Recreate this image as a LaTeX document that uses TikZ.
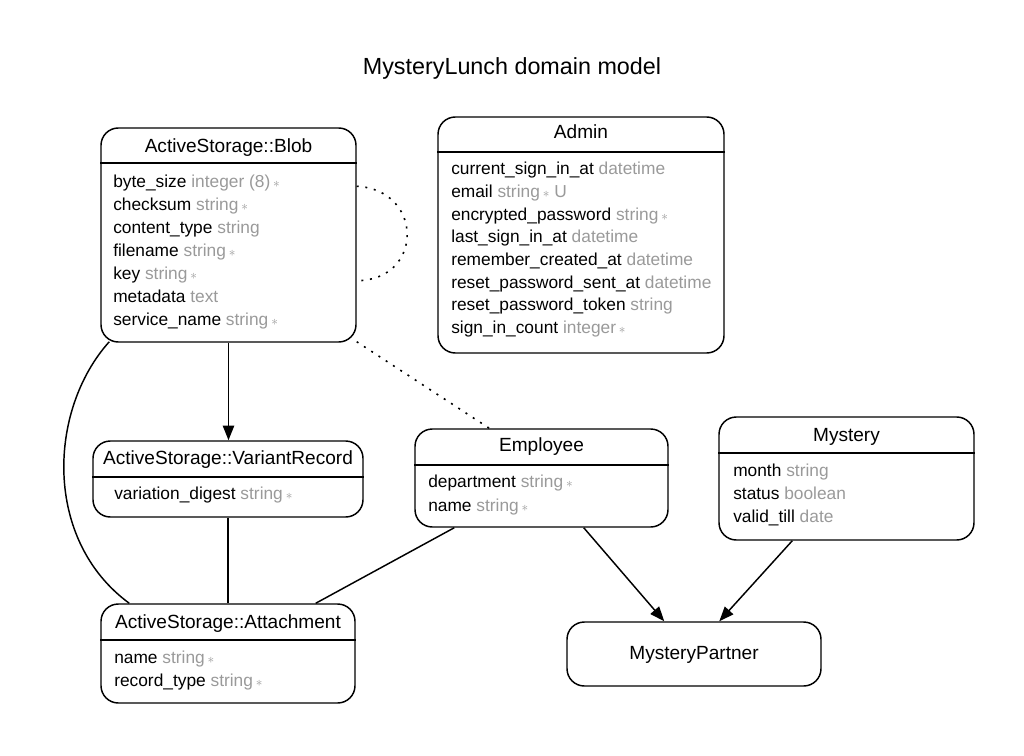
\documentclass[tikz,border=0pt]{standalone}
\usepackage{fontspec}
\setmainfont{Liberation Sans}
\usetikzlibrary{positioning, calc, fit, arrows.meta}

\definecolor{typegray}{HTML}{9A9A9A}
\newcommand{\attrtype}[1]{\textcolor{typegray}{#1}}
\newcommand{\reqmark}{\,\textcolor{typegray}{\fontsize{10}{10}\selectfont$\ast$}}

\begin{document}
\begin{tikzpicture}[x=0.75pt, y=-0.75pt, >={Triangle[length=11pt,width=8.5pt]},
    box/.style={draw, line width=1.1pt, rounded corners=13pt, inner sep=0pt},
    sep/.style={line width=1.1pt},
    edge/.style={line width=1.1pt},
    dots/.style={line width=1.2pt, dash pattern=on 1.5pt off 5pt},
    heading/.style={font=\fontsize{17.5}{20}\selectfont, anchor=base, inner sep=0pt},
    title/.style={font=\fontsize{14.3}{16}\selectfont, anchor=base, inner sep=0pt},
    attr/.style={font=\fontsize{13}{15}\selectfont, anchor=base west, inner sep=0pt}]

    % Page
    \path[fill=white] (0,0) rectangle (1024,756);
    \useasboundingbox (0,0) rectangle (1024,756);

    % Heading
    \node[heading] (heading) at (512,75) {MysteryLunch domain model};

    % Boxes
    \node[box, fit={(101,128) (356,342)}] (blob) {};
    \node[box, fit={(438,117) (724,353)}] (admin) {};
    \node[box, fit={(93,441) (363,517)}] (variant) {};
    \node[box, fit={(101,604) (355,703)}] (attach) {};
    \node[box, fit={(415,429) (668,527)}] (employee) {};
    \node[box, fit={(719,417) (974,540)}] (mystery) {};
    \node[box, fit={(567,622) (821,686)}] (partner) {};

    % Header lines
    \draw[sep] (blob.west |- 0,163) -- (blob.east |- 0,163);
    \draw[sep] (admin.west |- 0,152) -- (admin.east |- 0,152);
    \draw[sep] (variant.west |- 0,477) -- (variant.east |- 0,477);
    \draw[sep] (attach.west |- 0,640) -- (attach.east |- 0,640);
    \draw[sep] (employee.west |- 0,465) -- (employee.east |- 0,465);
    \draw[sep] (mystery.west |- 0,453) -- (mystery.east |- 0,453);

    % ActiveStorage::Blob
    \node[title] (blobT) at (blob.center |- 0,152) {ActiveStorage::Blob};
    \node[attr] (blob1) at (113,187) {byte\_size \attrtype{integer (8)}\reqmark};
    \node[attr] (blob2) at (113,210) {checksum \attrtype{string}\reqmark};
    \node[attr] (blob3) at (113,233) {content\_type \attrtype{string}};
    \node[attr] (blob4) at (113,256) {filename \attrtype{string}\reqmark};
    \node[attr] (blob5) at (113,279) {key \attrtype{string}\reqmark};
    \node[attr] (blob6) at (113,302) {metadata \attrtype{text}};
    \node[attr] (blob7) at (113,325) {service\_name \attrtype{string}\reqmark};

    % Admin
    \node[title] (adminT) at (admin.center |- 0,139) {Admin};
    \node[attr] (admin1) at (451,175) {current\_sign\_in\_at \attrtype{datetime}};
    \node[attr] (admin2) at (451,197.6) {email \attrtype{string}\reqmark\ \attrtype{U}};
    \node[attr] (admin3) at (451,220.2) {encrypted\_password \attrtype{string}\reqmark};
    \node[attr] (admin4) at (451,242.8) {last\_sign\_in\_at \attrtype{datetime}};
    \node[attr] (admin5) at (451,265.4) {remember\_created\_at \attrtype{datetime}};
    \node[attr] (admin6) at (451,288) {reset\_password\_sent\_at \attrtype{datetime}};
    \node[attr] (admin7) at (451,310.6) {reset\_password\_token \attrtype{string}};
    \node[attr] (admin8) at (451,333.2) {sign\_in\_count \attrtype{integer}\reqmark};

    % ActiveStorage::VariantRecord
    \node[title] (variantT) at (variant.center |- 0,464) {ActiveStorage::VariantRecord};
    \node[attr] (variant1) at (114,499) {variation\_digest \attrtype{string}\reqmark};

    % ActiveStorage::Attachment
    \node[title] (attachT) at (attach.center |- 0,628) {ActiveStorage::Attachment};
    \node[attr] (attach1) at (114,663) {name \attrtype{string}\reqmark};
    \node[attr] (attach2) at (114,686) {record\_type \attrtype{string}\reqmark};

    % Employee
    \node[title] (employeeT) at (employee.center |- 0,451) {Employee};
    \node[attr] (employee1) at (428,487) {department \attrtype{string}\reqmark};
    \node[attr] (employee2) at (428,511) {name \attrtype{string}\reqmark};

    % Mystery
    \node[title] (mysteryT) at (mystery.center |- 0,441) {Mystery};
    \node[attr] (mystery1) at (733,476) {month \attrtype{string}};
    \node[attr] (mystery2) at (733,499) {status \attrtype{boolean}};
    \node[attr] (mystery3) at (733,522) {valid\_till \attrtype{date}};

    % MysteryPartner
    \node[title] (partnerT) at (partner.center |- 0,659) {MysteryPartner};

    % Connections
    \draw[->, edge] (blob.south) -- (blob.south |- variant.north);
    \draw[edge] (variant.south) -- (attach.north);
    \draw[edge] ($(blob.south west)+(9,-1)$) .. controls (48,410) and (43,540) .. ($(attach.north west)+(29,0)$);
    \draw[edge] ($(employee.south west)+(40,0)$) -- ($(attach.north east)+(-40,0)$);
    \draw[dots] ($(blob.south east)+(0,-1)$) -- ($(employee.north west)+(75,0)$);
    \draw[dots] ($(blob.north east)+(0,59)$) .. controls (424,190) and (424,280) .. ($(blob.south east)+(0,-62)$);
    \draw[->, edge] ($(employee.south east)+(-85,0)$) -- ($(partner.north west)+(98,0)$);
    \draw[->, edge] ($(mystery.south west)+(74,0)$) -- ($(partner.north west)+(153,0)$);
\end{tikzpicture}
\end{document}
